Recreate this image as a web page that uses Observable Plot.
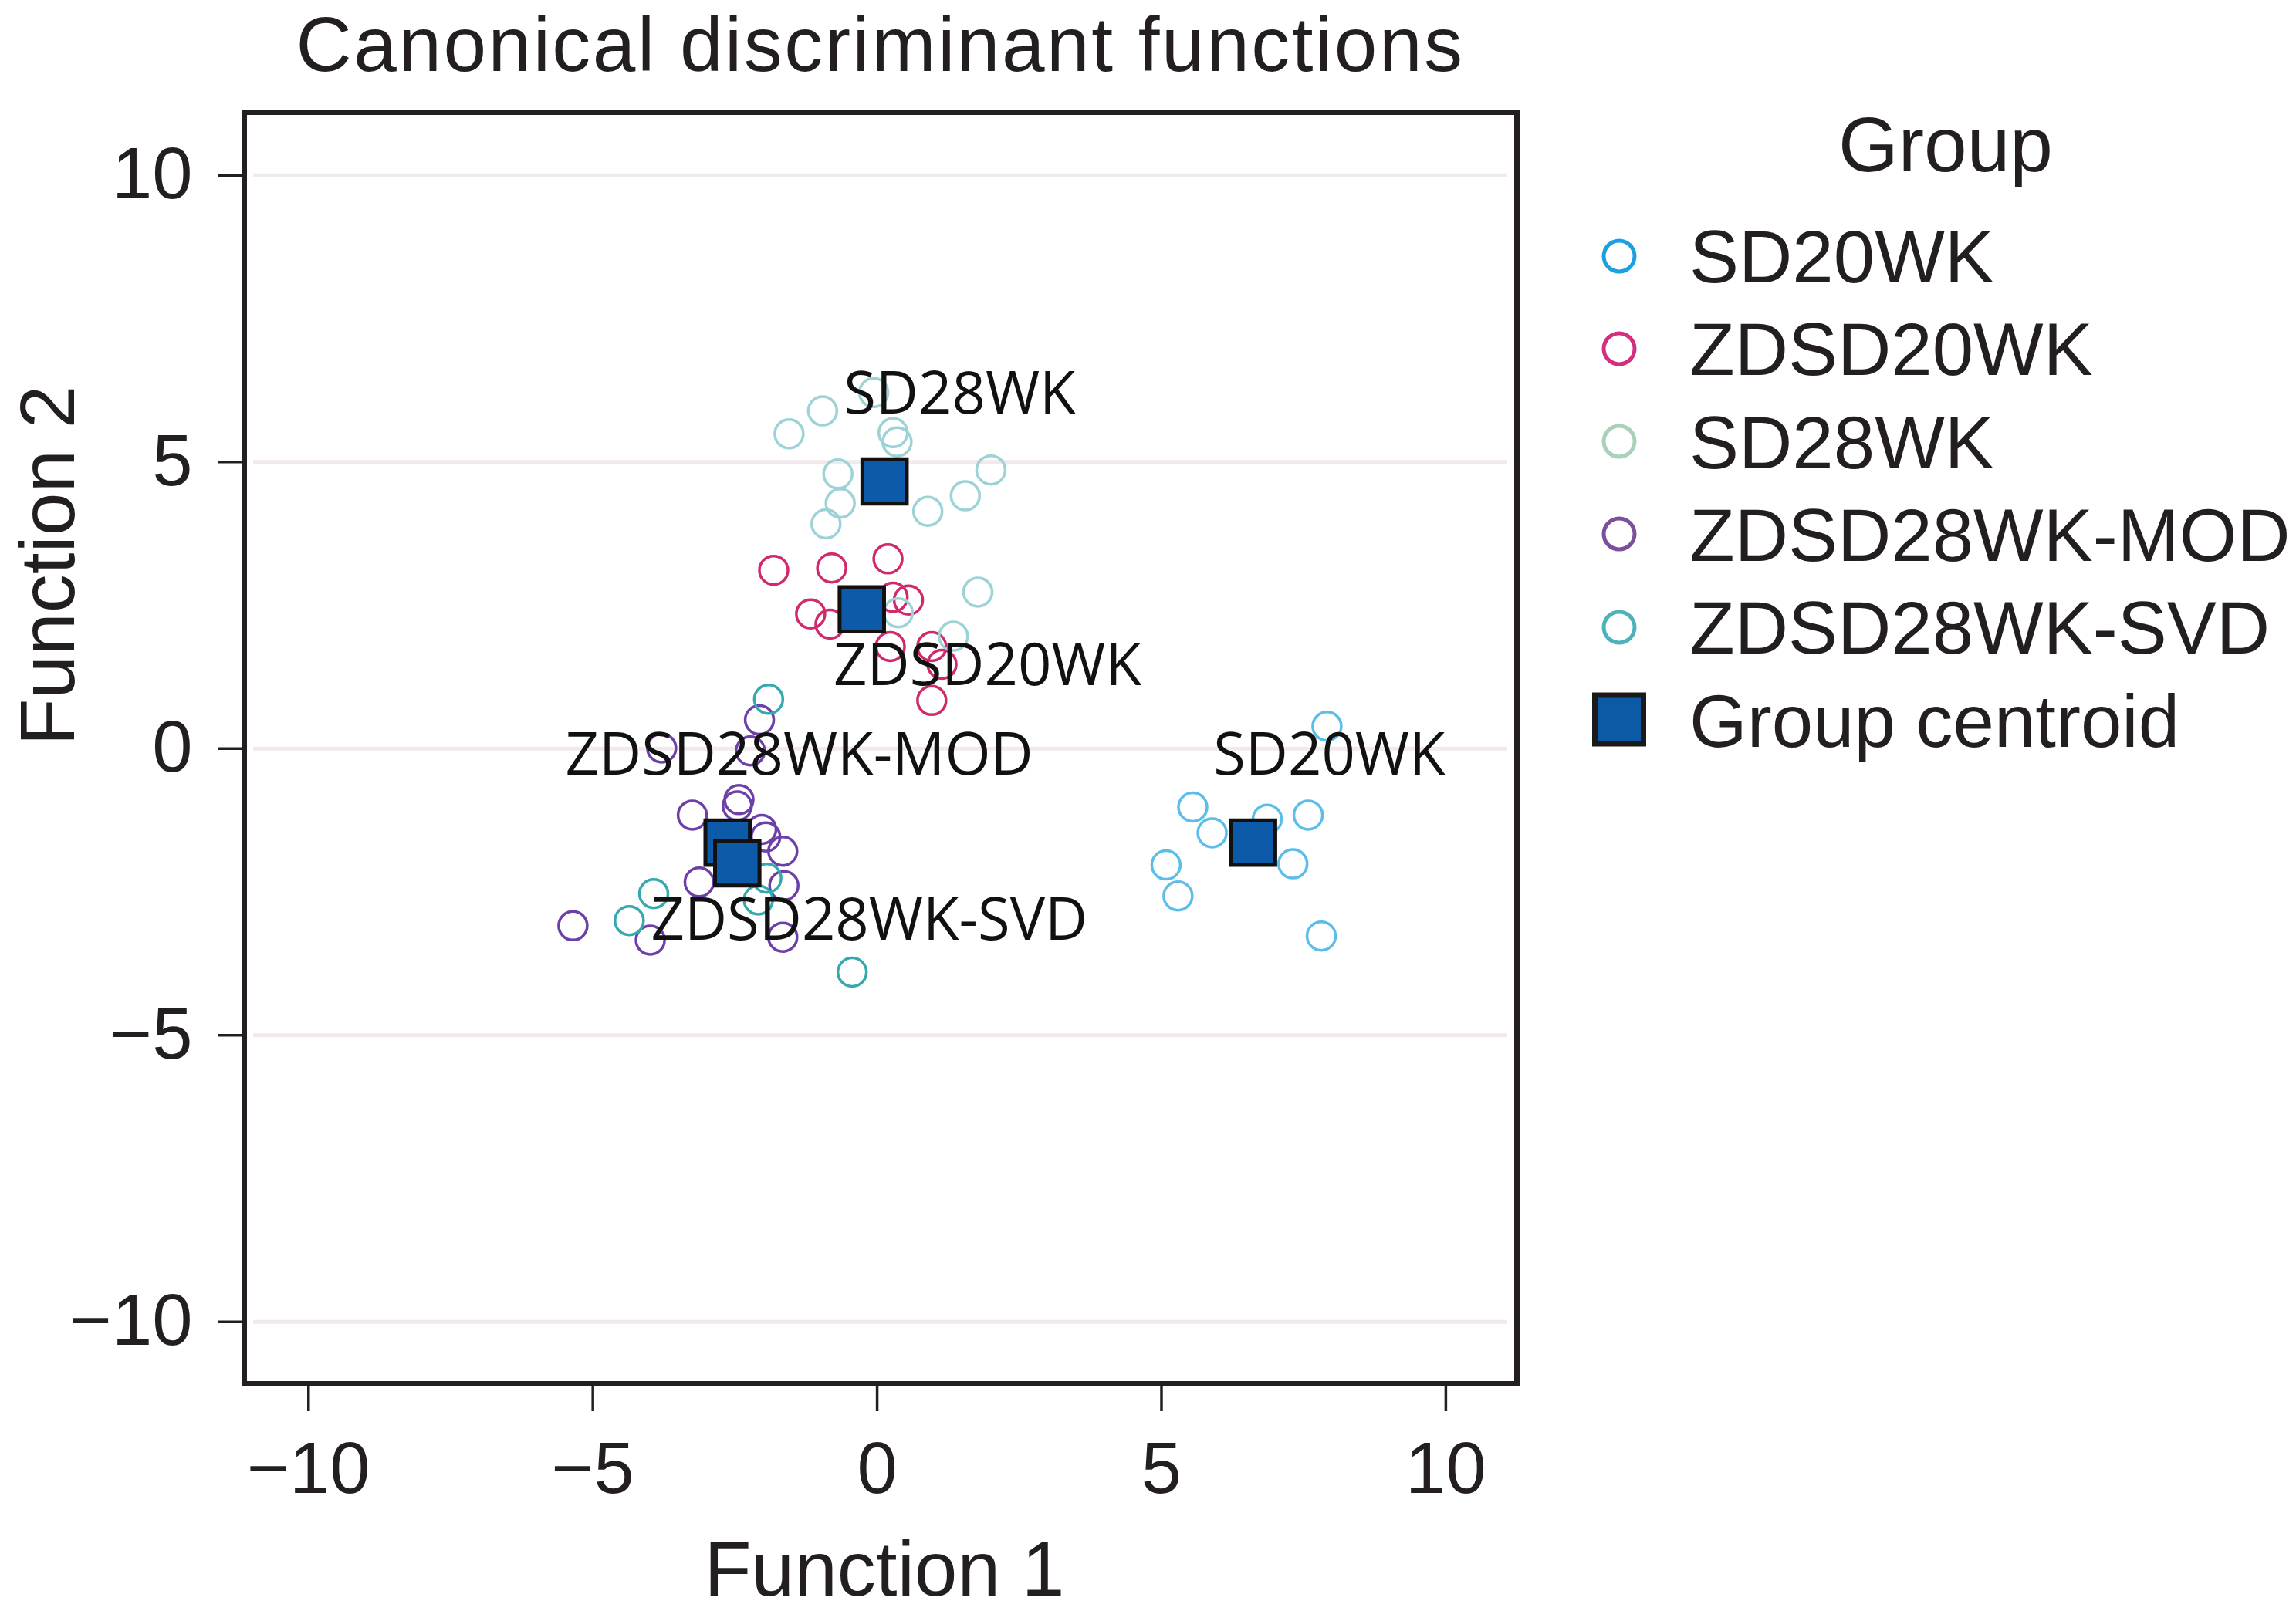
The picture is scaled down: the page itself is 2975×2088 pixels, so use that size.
<!DOCTYPE html>
<html>
<head>
<meta charset="utf-8">
<script src="https://cdn.jsdelivr.net/npm/d3@7"></script>
<script src="https://cdn.jsdelivr.net/npm/@observablehq/plot@0.6"></script>
<style>
  body { margin: 0; background: #fff; }
  #wrap { position: relative; width: 2975px; height: 2088px; overflow: hidden;
          font-family: "Liberation Sans", Arial, sans-serif; color: #231f20; }
  #title { position: absolute; left: 316px; width: 1649px; top: 0px; text-align: center;
           font-size: 100px; line-height: 115px; white-space: nowrap; letter-spacing: 2.5px; }
  #chart { position: absolute; left: 0; top: 0; }
  .legtext { position: absolute; font-size: 96px; line-height: 120px; white-space: nowrap; }
  .sw { position: absolute; }
</style>
</head>
<body>
<div id="wrap">
  <div id="chart"></div>
  <div id="title">Canonical discriminant functions</div>
  <div id="legend"></div>
</div>
<script>
// ---------- data ----------
const groups = ["SD20WK", "ZDSD20WK", "SD28WK", "ZDSD28WK-MOD", "ZDSD28WK-SVD"];

const sd20wk = [[7.91,0.39],[5.55,-1.02],[5.89,-1.47],[6.86,-1.23],[7.58,-1.16],[7.31,-2.01],[5.08,-2.03],[5.29,-2.57],[7.81,-3.27]];
const zdsd20wk = [[-1.82,3.11],[-0.80,3.15],[0.19,3.31],[-1.17,2.35],[-0.83,2.17],[0.55,2.59],[0.28,2.64],[0.23,1.78],[0.96,1.78],[1.14,1.47],[0.96,0.84]];
const sd28wk = [[-1.55,5.49],[-0.96,5.89],[-0.06,6.21],[0.28,5.51],[0.35,5.35],[-0.69,4.79],[-0.65,4.28],[-0.90,3.92],[0.89,4.14],[1.55,4.41],[2.00,4.86],[1.77,2.73],[0.37,2.37],[1.34,1.96]];
const zdsd28wkMod = [[-2.07,0.50],[-3.79,0.01],[-2.23,-0.04],[-2.43,-0.89],[-2.46,-1.00],[-3.25,-1.16],[-2.03,-1.41],[-1.96,-1.54],[-1.66,-1.79],[-3.13,-2.33],[-1.64,-2.39],[-5.35,-3.09],[-3.99,-3.34],[-1.66,-3.29]];
const zdsd28wkSvd = [[-1.91,0.86],[-3.93,-2.53],[-4.36,-3.00],[-1.94,-2.26],[-2.09,-2.64],[-0.44,-3.90]];

// group centroids, in group order
const centroidX = [6.61, -0.27, 0.13, -2.63, -2.46];
const centroidY = [-1.64, 2.43, 4.66, -1.64, -2.00];

// group-name annotations in the plot
const labelText = ["SD28WK", "ZDSD20WK", "ZDSD28WK-MOD", "SD20WK", "ZDSD28WK-SVD"];
const labelX = [1.45, 1.94, -1.37, 7.95, -0.14];
const labelY = [6.17, 1.44, -0.13, -0.13, -3.01];

const xTicks = [-10, -5, 0, 5, 10];
const yTicks = [-10, -5, 0, 5, 10];

const legendTitle = "Group";
const centroidLabel = "Group centroid";

// ---------- styling ----------
const pointColors = ["#5cbde9", "#cf2a6c", "#9dd2d6", "#6c40a8", "#36a9ae"];
const legendColors = ["#1ca0e0", "#d42f7f", "#a9d0b9", "#7d4f9b", "#4eb2bc"];
const centroidFill = "#0d5ba8";
const ink = "#231f20";

// ---------- build tables ----------
const seriesList = [sd20wk, zdsd20wk, sd28wk, zdsd28wkMod, zdsd28wkSvd];
const points = seriesList.flatMap((s, gi) => s.map(([x, y]) => ({group: groups[gi], x, y})));
const centroids = groups.map((g, i) => ({group: g, x: centroidX[i], y: centroidY[i]}));
const labels = labelText.map((t, i) => ({text: t, x: labelX[i], y: labelY[i]}));

const chart = Plot.plot({
  width: 2000,
  height: 2088,
  marginLeft: 316,
  marginRight: 35,
  marginTop: 145,
  marginBottom: 295,
  x: {domain: [-11.13, 11.25]},
  y: {domain: [-11.08, 11.10]},
  color: {domain: groups, range: pointColors},
  style: {fontFamily: '"Liberation Sans", Arial, sans-serif', background: "transparent", color: ink},
  marks: [
    Plot.ruleY(yTicks, {stroke: "#f2e9ed", strokeWidth: 5, insetLeft: 12, insetRight: 12}),
    Plot.dot(points, {x: "x", y: "y", stroke: "group", r: 18.5, strokeWidth: 3.5, fill: "none"}),
    Plot.dot(centroids, {x: "x", y: "y", symbol: "square", r: 32.5, fill: centroidFill, stroke: "#111", strokeWidth: 5}),
    Plot.text(labels, {x: "x", y: "y", text: "text", fontFamily: '"Open Sans", sans-serif', fontSize: 76, fill: "#111"}),
    Plot.frame({stroke: ink, strokeWidth: 7}),
    Plot.axisX({ticks: xTicks, tickSize: 36, tickPadding: 39, strokeWidth: 3.5, fontSize: 94, label: null, color: ink}),
    Plot.axisY({ticks: yTicks, tickSize: 34, tickPadding: 33, strokeWidth: 3.5, fontSize: 94, label: null, color: ink}),
    Plot.text(["Function 1"], {frameAnchor: "bottom", lineAnchor: "bottom", dy: 274, dx: 5, fontSize: 100, fill: ink}),
    Plot.text(["Function 2"], {frameAnchor: "left", lineAnchor: "bottom", rotate: -90, dx: -221, dy: -3, fontSize: 100, fill: ink})
  ]
});
document.getElementById("chart").appendChild(chart);

// ---------- legend ----------
const legend = document.getElementById("legend");
const rowCenter0 = 331.5, rowStep = 120.3;
const swX = 2098, textLeft = 2189;

const t = document.createElement("div");
t.className = "legtext";
t.style.fontSize = "100px";
t.style.left = "2321px";
t.style.width = "400px";
t.style.textAlign = "center";
t.style.top = "127px";
t.textContent = legendTitle;
legend.appendChild(t);

const ns = "http://www.w3.org/2000/svg";
function addRow(i, label, drawSwatch) {
  const cy = rowCenter0 + rowStep * i;
  const d = document.createElement("div");
  d.className = "legtext";
  d.style.left = textLeft + "px";
  d.style.top = (cy - 58.5) + "px";
  d.textContent = label;
  legend.appendChild(d);
  const svg = document.createElementNS(ns, "svg");
  svg.setAttribute("class", "sw");
  svg.setAttribute("width", 90);
  svg.setAttribute("height", 90);
  svg.style.left = (swX - 45) + "px";
  svg.style.top = (cy - 45) + "px";
  drawSwatch(svg);
  legend.appendChild(svg);
}
groups.forEach((g, i) => addRow(i, g, svg => {
  const c = document.createElementNS(ns, "circle");
  c.setAttribute("cx", 45); c.setAttribute("cy", 45); c.setAttribute("r", 20);
  c.setAttribute("fill", "none"); c.setAttribute("stroke", legendColors[i]); c.setAttribute("stroke-width", 5);
  svg.appendChild(c);
}));
addRow(groups.length, centroidLabel, svg => {
  const r = document.createElementNS(ns, "rect");
  r.setAttribute("x", 45 - 31.5); r.setAttribute("y", 45 - 31.5 - 0.5);
  r.setAttribute("width", 63); r.setAttribute("height", 63);
  r.setAttribute("fill", "#0c5aa6"); r.setAttribute("stroke", "#1a1a1a"); r.setAttribute("stroke-width", 7);
  svg.appendChild(r);
});
</script>
</body>
</html>
